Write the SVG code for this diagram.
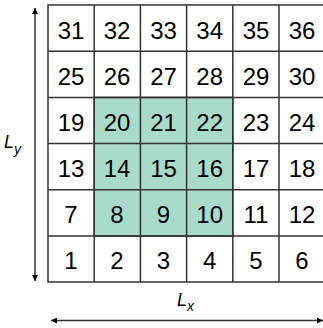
<svg xmlns="http://www.w3.org/2000/svg" width="323" height="328" viewBox="0 0 323 328">
<defs>
<marker id="ah" viewBox="0 0 10 10" refX="10" refY="5" markerWidth="6" markerHeight="6" orient="auto-start-reverse" markerUnits="userSpaceOnUse"><path d="M0,0 L10,5 L0,10 Z" fill="#000"/></marker>
<style>
.c{fill:#fff;stroke:#333;stroke-width:1.5}
.g{fill:#a8dbc9;stroke:#333;stroke-width:1.5}
.t{font-family:"Liberation Sans",Arial,sans-serif;font-size:24px;fill:#000;text-anchor:middle}
.l{font-family:"Liberation Sans",Arial,sans-serif;font-style:italic;fill:#000}
.a{stroke:#333;stroke-width:1.5;fill:none}
</style>
</defs>
<g id="grid">
<rect class="c" x="48" y="5" width="277" height="277"/>
<rect class="g" x="94.2" y="97.4" width="138.6" height="138.6"/>
<path class="a" d="M94.2,5V282M140.4,5V282M186.6,5V282M232.8,5V282M279,5V282M48,51.2H325M48,97.4H325M48,143.6H325M48,189.8H325M48,236H325"/>
</g>
<g id="labels" class="t">
<text x="71" y="39">31</text><text x="117" y="39">32</text><text x="163.5" y="39">33</text><text x="209.7" y="39">34</text><text x="256" y="39">35</text><text x="302" y="39">36</text>
<text x="71" y="85">25</text><text x="117" y="85">26</text><text x="163.5" y="85">27</text><text x="209.7" y="85">28</text><text x="256" y="85">29</text><text x="302" y="85">30</text>
<text x="71" y="131">19</text><text x="117" y="131">20</text><text x="163.5" y="131">21</text><text x="209.7" y="131">22</text><text x="256" y="131">23</text><text x="302" y="131">24</text>
<text x="71" y="177">13</text><text x="117" y="177">14</text><text x="163.5" y="177">15</text><text x="209.7" y="177">16</text><text x="256" y="177">17</text><text x="302" y="177">18</text>
<text x="71" y="223">7</text><text x="117" y="223">8</text><text x="163.5" y="223">9</text><text x="209.7" y="223">10</text><text x="256" y="223">11</text><text x="302" y="223">12</text>
<text x="71" y="269">1</text><text x="117" y="269">2</text><text x="163.5" y="269">3</text><text x="209.7" y="269">4</text><text x="256" y="269">5</text><text x="302" y="269">6</text>
</g>
<g id="connectors">
<line class="a" x1="35" y1="8" x2="35" y2="281" marker-start="url(#ah)" marker-end="url(#ah)"/>
<line class="a" x1="51" y1="320.5" x2="323" y2="320.5" marker-start="url(#ah)" marker-end="url(#ah)"/>
</g>
<g id="axis-labels">
<text class="l" x="4" y="148" font-size="18">L<tspan font-size="14" dy="6">y</tspan></text>
<text class="l" x="177" y="306" font-size="18">L<tspan font-size="14" dy="5">x</tspan></text>
</g>
</svg>
